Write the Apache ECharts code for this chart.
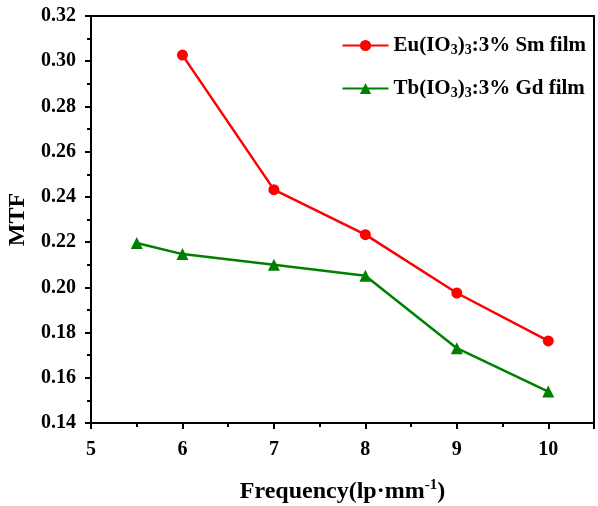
<!DOCTYPE html>
<html>
<head>
<meta charset="utf-8">
<script src="https://cdn.jsdelivr.net/npm/echarts@6/dist/echarts.min.js"></script>
<style>
  html, body { margin: 0; padding: 0; background: #fff; }
  #chart { width: 598px; height: 506px; }
</style>
</head>
<body>
<div id="chart"></div>
<script>
// MTF versus spatial frequency for two iodate films
const smFreq = [6, 7, 8, 9, 10];
const smMTF = [0.3027, 0.2432, 0.2233, 0.1975, 0.1763];
const gdFreq = [5.5, 6, 7, 8, 9, 10];
const gdMTF = [0.2196, 0.2147, 0.2100, 0.2051, 0.1731, 0.1539];
const xTicks = [5, 6, 7, 8, 9, 10];
const yTicks = [0.14, 0.16, 0.18, 0.20, 0.22, 0.24, 0.26, 0.28, 0.30, 0.32];

const smName = 'Eu(IO{s|3}){s|3}:3% Sm film';
const gdName = 'Tb(IO{s|3}){s|3}:3% Gd film';

const FONT = '"Liberation Serif", "Times New Roman", serif';
const pair = (xs, ys) => xs.map((x, i) => [x, ys[i]]);

const chart = echarts.init(document.getElementById('chart'), null, { renderer: 'canvas' });

const axisLineStyle = { color: '#000', width: 2 };

chart.setOption({
  animation: false,
  backgroundColor: '#fff',
  grid: { left: 91, right: 4, top: 16, bottom: 83, containLabel: false, outerBoundsMode: 'none' },
  legend: {
    orient: 'vertical',
    right: 7,
    top: 29,
    itemGap: 20,
    itemWidth: 46,
    itemHeight: 14,
    textStyle: {
      fontFamily: FONT, fontWeight: 'bold', fontSize: 21, color: '#000',
      lineHeight: 23,
      rich: {
        s: { fontFamily: FONT, fontWeight: 'bold', fontSize: 14, color: '#000', verticalAlign: 'bottom', lineHeight: 23, padding: [8, 0, 0, 0] }
      }
    },
    data: [smName, gdName]
  },
  xAxis: [{
    type: 'value',
    min: 5, max: 10.5, interval: 1,
    name: 'Frequency(lp·mm{sup|-1})',
    nameLocation: 'middle',
    nameGap: 55,
    nameTextStyle: {
      fontFamily: FONT, fontWeight: 'bold', fontSize: 24, color: '#000',
      rich: {
        sup: { fontFamily: FONT, fontWeight: 'bold', fontSize: 15, color: '#000', verticalAlign: 'top', padding: [0, 0, 12, 0] }
      }
    },
    axisLine: { show: true, onZero: false, lineStyle: axisLineStyle },
    axisTick: { show: true, inside: false, length: 6, lineStyle: { color: '#000', width: 2 } },
    minorTick: { show: true, splitNumber: 2, length: 4, lineStyle: { color: '#000', width: 2 } },
    splitLine: { show: false },
    axisLabel: {
      fontFamily: FONT, fontWeight: 'bold', fontSize: 20, color: '#000', margin: 17,
      formatter: v => (xTicks.indexOf(v) >= 0 ? String(v) : '')
    }
  }, {
    type: 'value', position: 'top', min: 5, max: 10.5,
    axisLine: { show: true, onZero: false, lineStyle: axisLineStyle },
    axisTick: { show: false }, axisLabel: { show: false }, splitLine: { show: false }
  }],
  yAxis: [{
    type: 'value',
    min: 0.14, max: 0.32, interval: 0.02,
    name: 'MTF',
    nameLocation: 'middle',
    nameGap: 59,
    nameRotate: 90,
    nameTextStyle: { fontFamily: FONT, fontWeight: 'bold', fontSize: 24, color: '#000' },
    axisLine: { show: true, onZero: false, lineStyle: axisLineStyle },
    axisTick: { show: true, inside: false, length: 6, lineStyle: { color: '#000', width: 2 } },
    minorTick: { show: true, splitNumber: 2, length: 4, lineStyle: { color: '#000', width: 2 } },
    splitLine: { show: false },
    axisLabel: {
      fontFamily: FONT, fontWeight: 'bold', fontSize: 20, color: '#000', margin: 15,
      formatter: v => {
        const hit = yTicks.find(t => Math.abs(t - v) < 1e-9);
        return hit !== undefined ? hit.toFixed(2) : '';
      }
    }
  }, {
    type: 'value', position: 'right', min: 0.14, max: 0.32,
    axisLine: { show: true, onZero: false, lineStyle: axisLineStyle },
    axisTick: { show: false }, axisLabel: { show: false }, splitLine: { show: false }
  }],
  series: [{
    name: smName,
    type: 'line',
    data: pair(smFreq, smMTF),
    symbol: 'circle',
    symbolSize: 11,
    color: '#ff0000',
    lineStyle: { color: '#ff0000', width: 2.5 },
    itemStyle: { color: '#ff0000' }
  }, {
    name: gdName,
    type: 'line',
    data: pair(gdFreq, gdMTF),
    symbol: 'triangle',
    symbolSize: 12,
    color: '#008000',
    lineStyle: { color: '#008000', width: 2.5 },
    itemStyle: { color: '#008000' }
  }]
});
</script>
</body>
</html>
